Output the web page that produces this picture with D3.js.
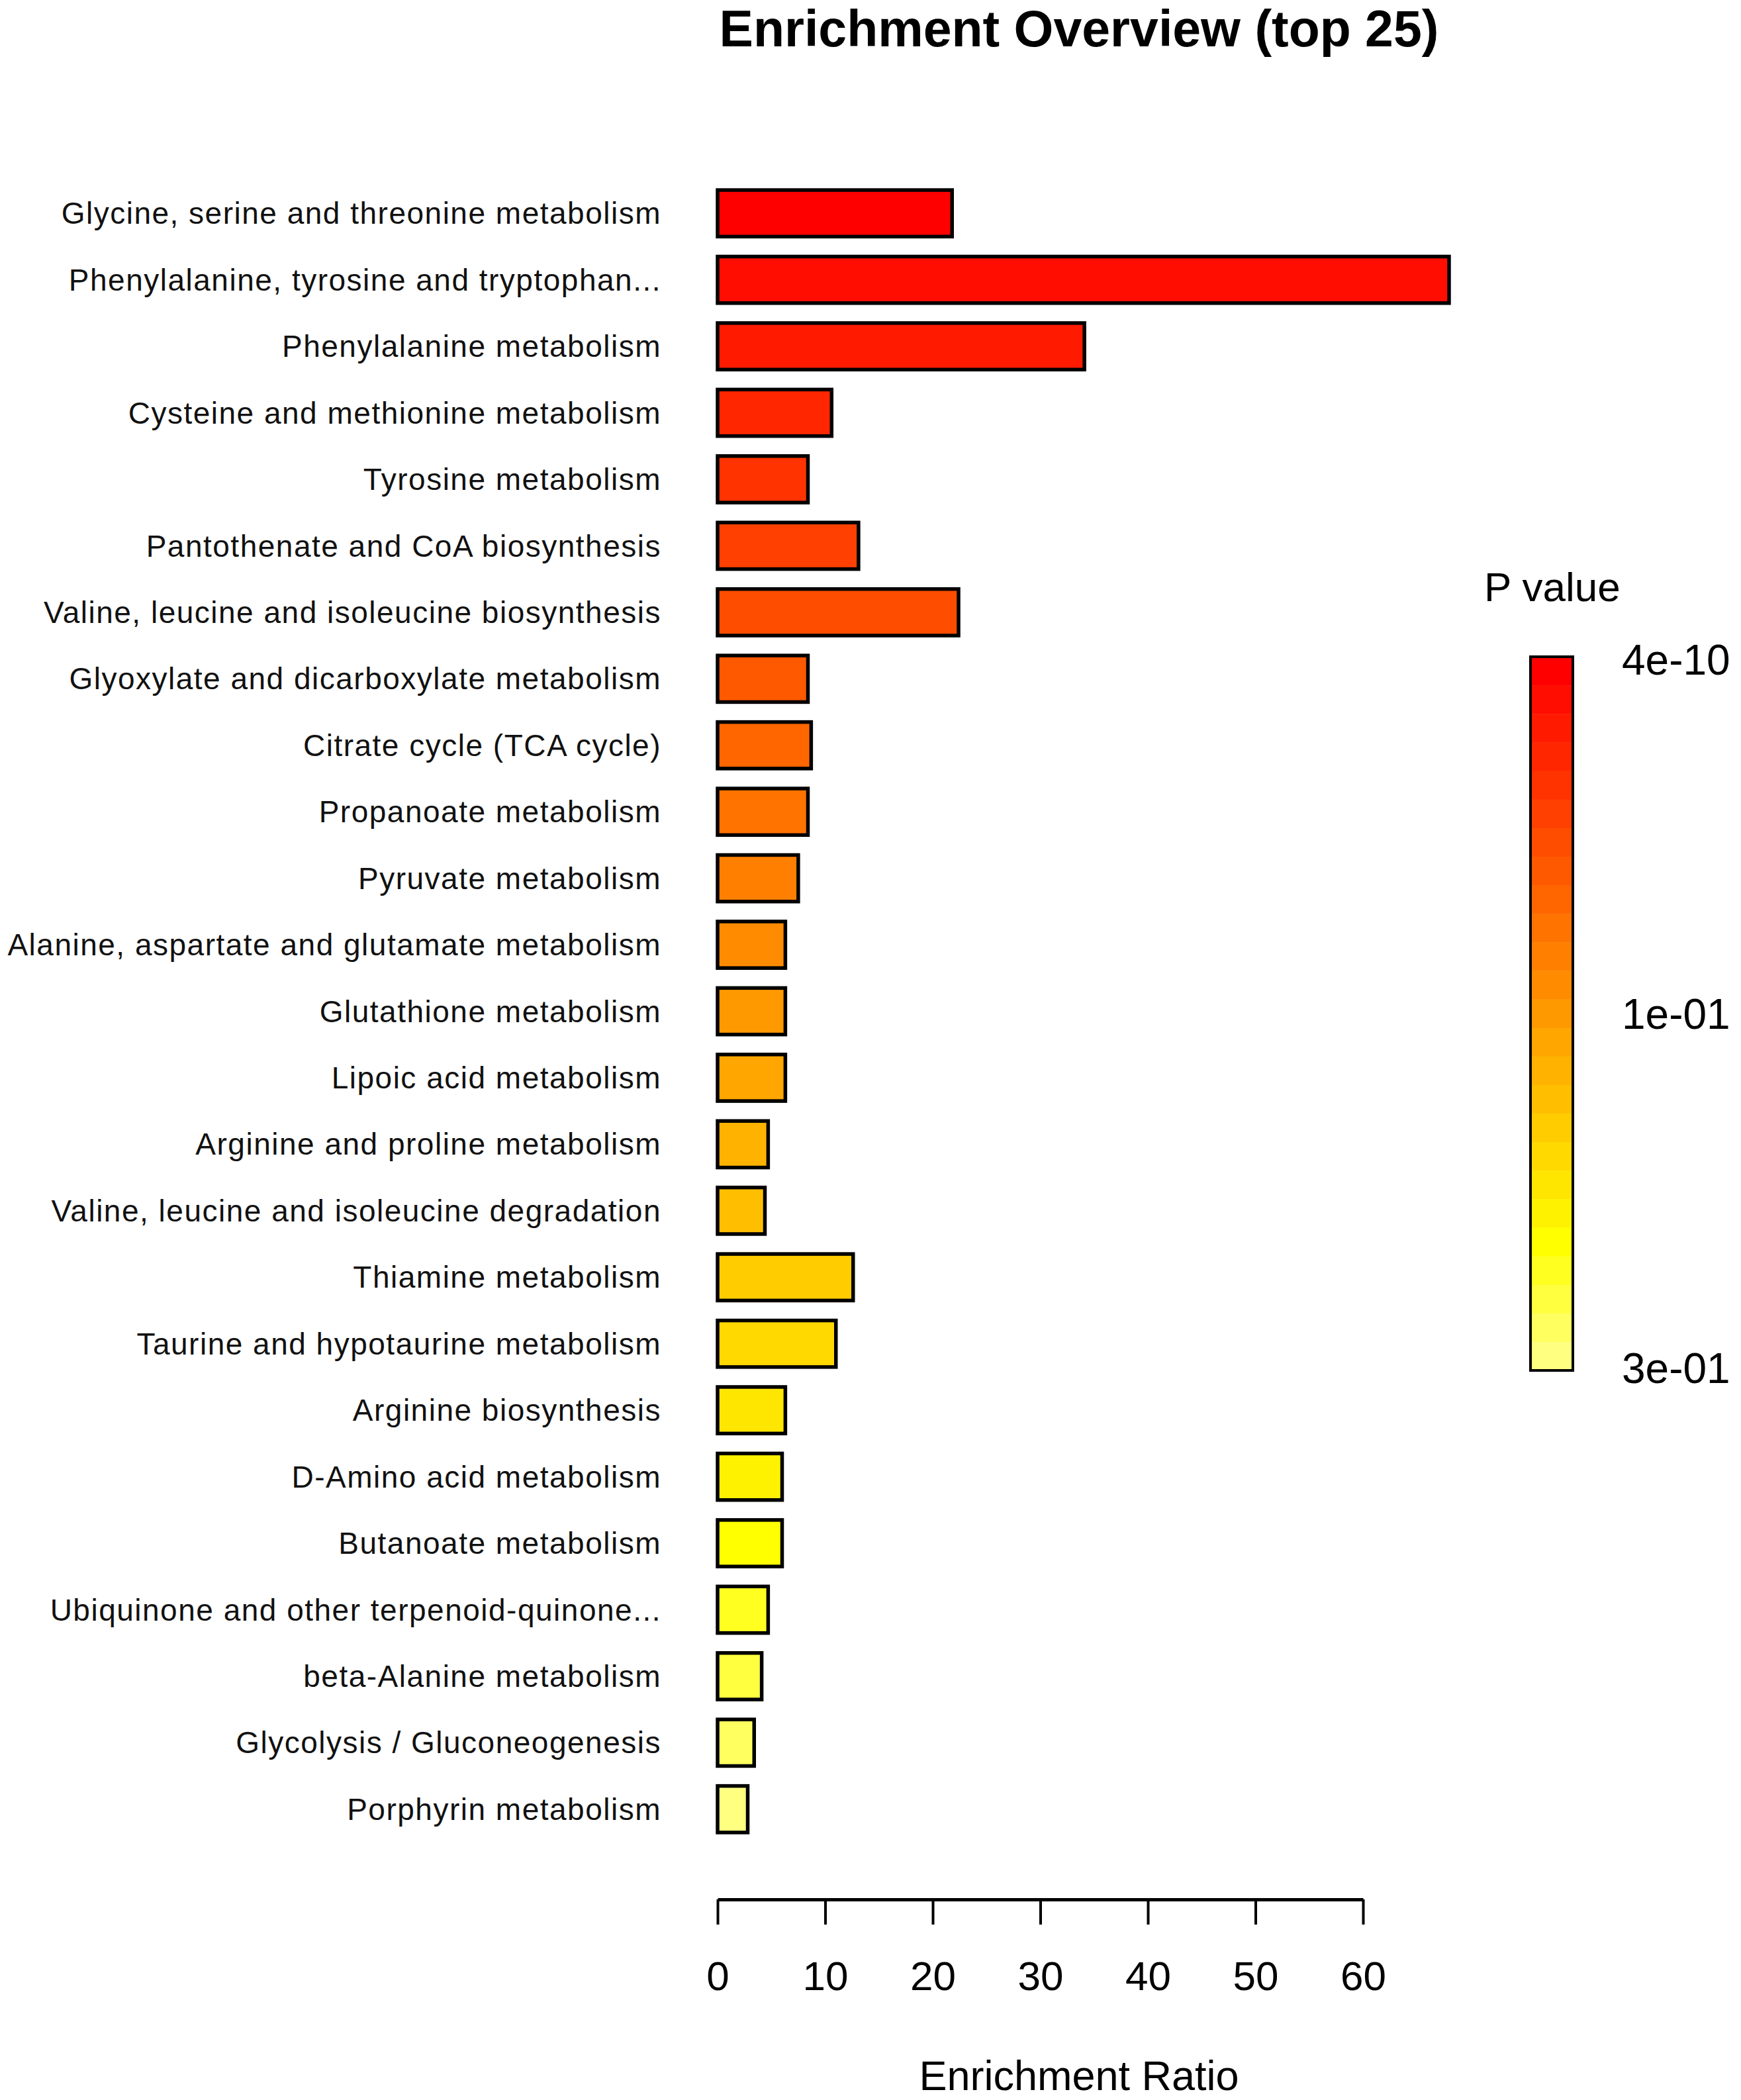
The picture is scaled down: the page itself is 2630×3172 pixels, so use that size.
<!DOCTYPE html>
<html>
<head>
<meta charset="utf-8">
<script src="https://cdn.jsdelivr.net/npm/d3@7"></script>
<style>
  body { margin: 0; background: #fff; }
</style>
</head>
<body>
<div id="chart"></div>
<script>
// pathway names, top to bottom (ranked by p value)
const pathways = [
    "Glycine, serine and threonine metabolism",
    "Phenylalanine, tyrosine and tryptophan...",
    "Phenylalanine metabolism",
    "Cysteine and methionine metabolism",
    "Tyrosine metabolism",
    "Pantothenate and CoA biosynthesis",
    "Valine, leucine and isoleucine biosynthesis",
    "Glyoxylate and dicarboxylate metabolism",
    "Citrate cycle (TCA cycle)",
    "Propanoate metabolism",
    "Pyruvate metabolism",
    "Alanine, aspartate and glutamate metabolism",
    "Glutathione metabolism",
    "Lipoic acid metabolism",
    "Arginine and proline metabolism",
    "Valine, leucine and isoleucine degradation",
    "Thiamine metabolism",
    "Taurine and hypotaurine metabolism",
    "Arginine biosynthesis",
    "D-Amino acid metabolism",
    "Butanoate metabolism",
    "Ubiquinone and other terpenoid-quinone...",
    "beta-Alanine metabolism",
    "Glycolysis / Gluconeogenesis",
    "Porphyrin metabolism"
]

// enrichment ratio of each pathway (same order)
const enrichment = [
    21.8, 68.0, 34.1, 10.6, 8.4, 13.1, 22.4, 8.4, 8.7, 8.4,
    7.5, 6.3, 6.3, 6.3, 4.7, 4.4, 12.6, 11.0, 6.3, 6.0,
    6.0, 4.7, 4.1, 3.4, 2.8
]

const xTicks = [0, 10, 20, 30, 40, 50, 60]
const pLabels = ["4e-10", "1e-01", "3e-01"]

const W = 2630, H = 3172
const font = "'Liberation Sans', Arial, sans-serif"

const svg = d3.select("#chart")
    .append("svg")
    .attr("width", W)
    .attr("height", H)

svg.append("rect").attr("width", W).attr("height", H).attr("fill", "#fff")

// scales
const x = d3.scaleLinear()
    .domain([0, 60])
    .range([1084, 2059])

const y = d3.scaleBand()
    .domain(pathways)
    .range([272, 2783])
    .paddingInner(0.3)
    .paddingOuter(0.15)

// heat colours: red -> yellow -> pale yellow, by rank
const heat = d3.scaleLinear()
    .domain([0, 20, 24])
    .range(["#ff0000", "#ffff00", "#ffff80"])

// title
svg.append("text")
    .attr("x", 1630)
    .attr("y", 70)
    .attr("text-anchor", "middle")
    .style("font-family", font)
    .style("font-weight", "bold")
    .style("font-size", "77px")
    .text("Enrichment Overview (top 25)")

// bars
svg.selectAll(".bar")
    .data(pathways)
    .join("rect")
    .attr("class", "bar")
    .attr("x", x(0))
    .attr("y", d => y(d))
    .attr("width", (d, i) => x(enrichment[i]) - x(0))
    .attr("height", y.bandwidth())
    .attr("fill", (d, i) => heat(i))
    .attr("stroke", "#000")
    .attr("stroke-width", 5.5)

// pathway labels
svg.selectAll(".lab")
    .data(pathways)
    .join("text")
    .attr("class", "lab")
    .attr("x", 999)
    .attr("y", d => y(d) + y.bandwidth() / 2)
    .attr("dy", "0.35em")
    .attr("text-anchor", "end")
    .style("font-family", font)
    .style("font-size", "46px")
    .style("letter-spacing", "1.5px")
    .style("fill", "#111")
    .text(d => d)

// x axis
const axis = svg.append("g")
    .attr("transform", "translate(0, 2869)")
    .call(d3.axisBottom(x).tickValues(xTicks).tickSize(38).tickSizeOuter(0).tickPadding(55))
axis.select(".domain").attr("stroke-width", 5)
axis.selectAll(".tick line").attr("stroke-width", 4)
axis.selectAll(".tick text")
    .style("font-family", font)
    .style("font-size", "62px")
    .attr("fill", "#000")

svg.append("text")
    .attr("x", 1630)
    .attr("y", 3157)
    .attr("text-anchor", "middle")
    .style("font-family", font)
    .style("font-size", "63px")
    .text("Enrichment Ratio")

// colour bar legend
const steps = d3.range(pathways.length)
const ly = d3.scaleBand()
    .domain(steps)
    .range([992, 2070])

svg.selectAll(".step")
    .data(steps)
    .join("rect")
    .attr("class", "step")
    .attr("x", 2312)
    .attr("y", d => ly(d))
    .attr("width", 64)
    .attr("height", ly.bandwidth() + 0.5)
    .attr("fill", d => heat(d))

svg.append("rect")
    .attr("x", 2312)
    .attr("y", 992)
    .attr("width", 64)
    .attr("height", 2070 - 992)
    .attr("fill", "none")
    .attr("stroke", "#000")
    .attr("stroke-width", 4)

const py = d3.scalePoint()
    .domain(pLabels)
    .range([996, 2066])

svg.selectAll(".plab")
    .data(pLabels)
    .join("text")
    .attr("class", "plab")
    .attr("x", 2450)
    .attr("y", d => py(d))
    .attr("dy", "0.36em")
    .style("font-family", font)
    .style("font-size", "64px")
    .text(d => d)

svg.append("text")
    .attr("x", 2242)
    .attr("y", 908)
    .style("font-family", font)
    .style("font-size", "62px")
    .text("P value")
</script>
</body>
</html>
